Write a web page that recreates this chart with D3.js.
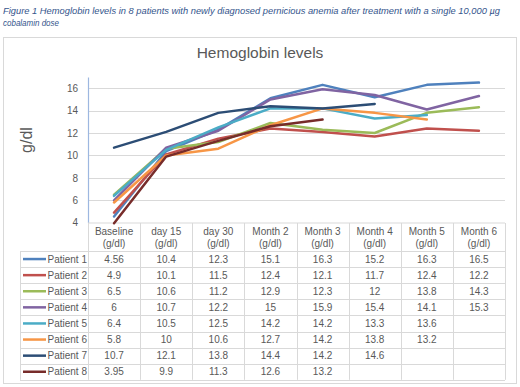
<!DOCTYPE html>
<html><head><meta charset="utf-8">
<script src="https://cdn.jsdelivr.net/npm/d3@7"></script>
<style>body{margin:0;background:#fff}svg{display:block}</style>
</head><body><svg id="c" width="520" height="387"></svg>
<script>
const categories = ["Baseline", "day 15", "day 30", "Month 2", "Month 3", "Month 4", "Month 5", "Month 6"];
const unitLabel = "(g/dl)";
const seriesNames = ["Patient 1","Patient 2","Patient 3","Patient 4","Patient 5","Patient 6","Patient 7","Patient 8"];
const p1 = [4.56, 10.4, 12.3, 15.1, 16.3, 15.2, 16.3, 16.5];
const p2 = [4.9, 10.1, 11.5, 12.4, 12.1, 11.7, 12.4, 12.2];
const p3 = [6.5, 10.6, 11.2, 12.9, 12.3, 12, 13.8, 14.3];
const p4 = [6, 10.7, 12.2, 15, 15.9, 15.4, 14.1, 15.3];
const p5 = [6.4, 10.5, 12.5, 14.2, 14.2, 13.3, 13.6, null];
const p6 = [5.8, 10, 10.6, 12.7, 14.2, 13.8, 13.2, null];
const p7 = [10.7, 12.1, 13.8, 14.4, 14.2, 14.6, null, null];
const p8 = [3.95, 9.9, 11.3, 12.6, 13.2, null, null, null];
const yTicks = [4, 6, 8, 10, 12, 14, 16];
const colors = ["#4F81BD","#C0504D","#9BBB59","#8064A2","#4BACC6","#F79646","#2C4D75","#772C2A"];
const series = [p1,p2,p3,p4,p5,p6,p7,p8];

const svg = d3.select("#c");
const font = "'Liberation Sans', Arial, sans-serif";
const txt = "#595959";

// caption
const capColor = "#34558C";
svg.append("text").attr("x", 3).attr("y", 13.5).attr("font-family", font).attr("font-style","italic")
  .attr("font-size", 9.5).attr("fill", capColor).attr("textLength", 497).attr("lengthAdjust","spacingAndGlyphs")
  .text("Figure 1 Hemoglobin levels in 8 patients with newly diagnosed pernicious anemia after treatment with a single 10,000 \u00b5g");
svg.append("text").attr("x", 3).attr("y", 26).attr("font-family", font).attr("font-style","italic")
  .attr("font-size", 9.5).attr("fill", capColor).attr("textLength", 56).attr("lengthAdjust","spacingAndGlyphs")
  .text("cobalamin dose");

// chart border
svg.append("rect").attr("x", 3.5).attr("y", 37.5).attr("width", 513).attr("height", 346)
  .attr("fill", "#fff").attr("stroke", "#d9d9d9");

// title
svg.append("text").attr("x", 260).attr("y", 58).attr("text-anchor","middle").attr("font-family", font)
  .attr("font-size", 15.5).attr("fill", txt).text("Hemoglobin levels");

const pLeft = 88, pRight = 505, pTop = 77, pBottom = 222.7;
const x = d3.scaleBand().domain(categories).range([pLeft, pRight]);
const y = d3.scaleLinear().domain([4, 17]).range([pBottom, pTop]);
const cx = c => x(c) + x.bandwidth()/2;

// gridlines
svg.append("g").selectAll("line").data(yTicks.filter(t => t > 4)).join("line")
  .attr("x1", pLeft).attr("x2", pRight).attr("y1", d => Math.round(y(d))+0.5).attr("y2", d => Math.round(y(d))+0.5)
  .attr("stroke", "#d9d9d9").attr("stroke-width", 1);

// y axis
const yAxis = svg.append("g").attr("transform", `translate(${pLeft},0)`)
  .call(d3.axisLeft(y).tickValues(yTicks).tickSize(0).tickPadding(10));
yAxis.select(".domain").attr("stroke", "#9DB7E0").attr("stroke-width", 1.2);
yAxis.selectAll("text").attr("font-family", font).attr("font-size", 10).attr("fill", txt);

// y label
svg.append("text").attr("transform", "translate(32,140) rotate(-90)").attr("text-anchor","middle")
  .attr("font-family", font).attr("font-size", 16).attr("fill", txt).text("g/dl");

// table
const hdrTop = 223, rowTop = 251, rowH = 16.1, legLeft = 20;
const tableBottom = rowTop + rowH * seriesNames.length;
const g = svg.append("g");
g.append("line").attr("x1", pLeft).attr("x2", pRight).attr("y1", hdrTop).attr("y2", hdrTop).attr("stroke", "#d9d9d9");
g.selectAll("line.r").data(d3.range(seriesNames.length + 1)).join("line").attr("class","r")
  .attr("x1", legLeft).attr("x2", pRight)
  .attr("y1", i => Math.round(rowTop + i*rowH)+0.5).attr("y2", i => Math.round(rowTop + i*rowH)+0.5)
  .attr("stroke", "#d9d9d9");
const vx = categories.map(c => x(c)).concat([pRight]);
g.selectAll("line.v").data(vx).join("line").attr("class","v")
  .attr("x1", d => Math.round(d)+0.5).attr("x2", d => Math.round(d)+0.5)
  .attr("y1", hdrTop).attr("y2", tableBottom).attr("stroke", "#d9d9d9");
g.append("line").attr("x1", legLeft+0.5).attr("x2", legLeft+0.5).attr("y1", rowTop).attr("y2", tableBottom).attr("stroke", "#d9d9d9");

categories.forEach(c => {
  g.append("text").attr("x", cx(c)).attr("y", 235).attr("text-anchor","middle").attr("font-family", font)
    .attr("font-size", 10).attr("fill", txt).text(c);
  g.append("text").attr("x", cx(c)).attr("y", 247).attr("text-anchor","middle").attr("font-family", font)
    .attr("font-size", 10).attr("fill", txt).text(unitLabel);
});

seriesNames.forEach((name, i) => {
  const ym = rowTop + i*rowH + rowH/2;
  g.append("line").attr("x1", 23).attr("x2", 46).attr("y1", ym).attr("y2", ym)
    .attr("stroke", colors[i]).attr("stroke-width", 2.5);
  g.append("text").attr("x", 47.5).attr("y", ym + 3.5).attr("font-family", font).attr("font-size", 10)
    .attr("fill", txt).text(name);
  series[i].forEach((v, j) => {
    if (v == null) return;
    g.append("text").attr("x", cx(categories[j])).attr("y", ym + 3.5).attr("text-anchor","middle")
      .attr("font-family", font).attr("font-size", 10).attr("fill", txt).text(v);
  });
});

const line = d3.line().defined(d => d.v != null).x(d => cx(d.c)).y(d => y(d.v));
series.forEach((s, i) => {
  svg.append("path").datum(s.map((v, j) => ({c: categories[j], v})))
    .attr("d", line).attr("fill","none").attr("stroke", colors[i]).attr("stroke-width", 2.5)
    .attr("stroke-linejoin","round").attr("stroke-linecap","round");
});
</script></body></html>
